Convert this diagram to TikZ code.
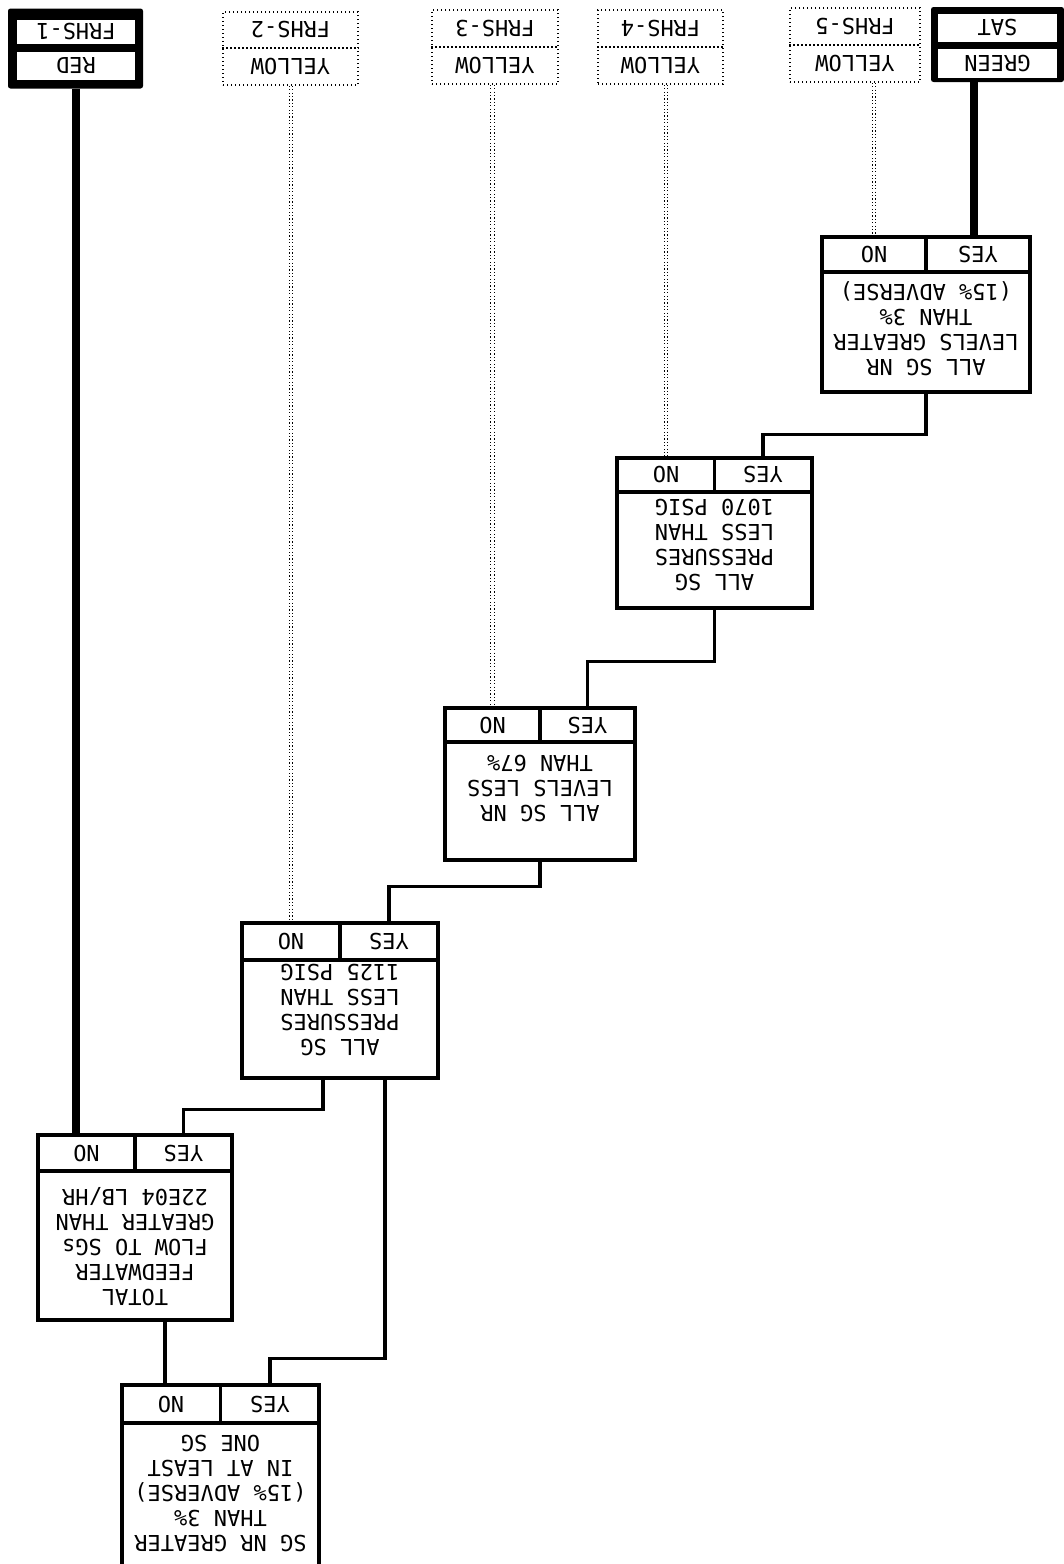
\documentclass[tikz,border=0pt]{standalone}
\usepackage{fontspec}
\setmainfont{DejaVu Sans Mono}
\usetikzlibrary{calc}
\begin{document}
\begin{tikzpicture}[x=1pt,y=-1pt,
  dbox/.style={draw, line width=3.2pt, inner sep=0pt},
  bline/.style={line width=3.2pt},
  cell/.style={font=\fontsize{22}{25}\selectfont, rotate=180, inner sep=0pt, anchor=center},
  body/.style={font=\fontsize{22}{25}\selectfont, rotate=180, align=center, inner sep=0pt, anchor=center},
  conn/.style={line width=3.6pt, line cap=rect, line join=miter},
  thickline/.style={line width=8pt},
  dotline/.style={line width=1.2pt, double distance=2.4pt, dash pattern=on 1.2pt off 2.2pt},
  dotborder/.style={line width=1.6pt, dash pattern=on 1.4pt off 2.6pt},
  dotbox/.style={draw, dotborder, inner sep=0pt, minimum width=130pt, minimum height=74pt},
  blackbox/.style={fill=black, rounded corners=2.5pt, inner sep=0pt},
  wcell/.style={fill=white, inner sep=0pt, font=\fontsize{22}{25}\selectfont, rotate=180}
]
\useasboundingbox (0,0) rectangle (1064,1564);

% ---------------- top status boxes ----------------
\node[blackbox, minimum width=135pt, minimum height=80pt] (t1) at (75.5,48.5) {};
\node[wcell, minimum width=118pt, minimum height=24pt] (t1a) at (76,31.5) {FRHS-1};
\node[wcell, minimum width=118pt, minimum height=28pt] (t1b) at (76,66) {RED};

\node[dotbox, minimum width=135pt, minimum height=73pt] (t2) at (290.5,48.5) {};
\draw[dotborder] (t2.west |- 0,48) -- (t2.east |- 0,48);
\node[cell] (t2a) at (290.5,30) {FRHS-2};
\node[cell] (t2b) at (290.5,66.5) {YELLOW};

\node[dotbox, minimum width=126pt, minimum height=74pt] (t3) at (495,47) {};
\draw[dotborder] (t3.west |- 0,47) -- (t3.east |- 0,47);
\node[cell] (t3a) at (495,28.5) {FRHS-3};
\node[cell] (t3b) at (495,65.5) {YELLOW};

\node[dotbox, minimum width=125pt, minimum height=74pt] (t4) at (660.5,47) {};
\draw[dotborder] (t4.west |- 0,47) -- (t4.east |- 0,47);
\node[cell] (t4a) at (660.5,28.5) {FRHS-4};
\node[cell] (t4b) at (660.5,65.5) {YELLOW};

\node[dotbox, minimum width=130pt, minimum height=74pt] (t5) at (855,45) {};
\draw[dotborder] (t5.west |- 0,45) -- (t5.east |- 0,45);
\node[cell] (t5a) at (855,26.5) {FRHS-5};
\node[cell] (t5b) at (855,63.5) {YELLOW};

\node[blackbox, minimum width=133pt, minimum height=75pt] (t6) at (997.5,44.5) {};
\node[wcell, minimum width=119pt, minimum height=28pt] (t6a) at (997.5,28) {SAT};
\node[wcell, minimum width=119pt, minimum height=29pt] (t6b) at (997.5,63.5) {GREEN};

% ---------------- decision boxes ----------------
% B1
\node[dbox, minimum width=208pt, minimum height=155pt] (b1) at (926,314.5) {};
\draw[bline] (b1.west |- 0,272) -- (b1.east |- 0,272);
\draw[bline] (b1.north) -- (b1.center |- 0,272);
\node[cell] (b1no) at (874,254.5) {NO};
\node[cell] (b1yes) at (978,254.5) {YES};
\node[body] (b1t) at (926,329) {ALL SG NR\\LEVELS GREATER\\THAN 3\%\\(15\% ADVERSE)};

% B2
\node[dbox, minimum width=195pt, minimum height=150pt] (b2) at (714.5,533) {};
\draw[bline] (b2.west |- 0,492) -- (b2.east |- 0,492);
\draw[bline] (b2.north) -- (b2.center |- 0,492);
\node[cell] (b2no) at (666,475) {NO};
\node[cell] (b2yes) at (763,475) {YES};
\node[body] (b2t) at (714.5,545) {ALL SG\\PRESSURES\\LESS THAN\\1070 PSIG};

% B3
\node[dbox, minimum width=190pt, minimum height=152pt] (b3) at (540,784) {};
\draw[bline] (b3.west |- 0,742) -- (b3.east |- 0,742);
\draw[bline] (b3.north) -- (b3.center |- 0,742);
\node[cell] (b3no) at (492.5,725) {NO};
\node[cell] (b3yes) at (587.5,725) {YES};
\node[body] (b3t) at (540,788) {ALL SG NR\\LEVELS LESS\\THAN 67\%};

% B4
\node[dbox, minimum width=196pt, minimum height=155pt] (b4) at (340,1000.5) {};
\draw[bline] (b4.west |- 0,960) -- (b4.east |- 0,960);
\draw[bline] (b4.north) -- (b4.center |- 0,960);
\node[cell] (b4no) at (291,941.5) {NO};
\node[cell] (b4yes) at (389,941.5) {YES};
\node[body] (b4t) at (340,1010) {ALL SG\\PRESSURES\\LESS THAN\\1125 PSIG};

% B5
\node[dbox, minimum width=194pt, minimum height=185pt] (b5) at (135,1227.5) {};
\draw[bline] (b5.west |- 0,1171) -- (b5.east |- 0,1171);
\draw[bline] (b5.north) -- (b5.center |- 0,1171);
\node[cell] (b5no) at (86.5,1153) {NO};
\node[cell] (b5yes) at (183.5,1153) {YES};
\node[body] (b5t) at (135,1247) {TOTAL\\FEEDWATER\\FLOW TO SGs\\GREATER THAN\\22E04 LB/HR};

% B6
\node[dbox, minimum width=197pt, minimum height=190pt] (b6) at (220.5,1480) {};
\draw[bline] (b6.west |- 0,1423) -- (b6.east |- 0,1423);
\draw[bline] (b6.north) -- (b6.center |- 0,1423);
\node[cell] (b6no) at (171,1404) {NO};
\node[cell] (b6yes) at (270,1404) {YES};
\node[body] (b6t) at (220.5,1493) {SG NR GREATER\\THAN 3\%\\(15\% ADVERSE)\\IN AT LEAST\\ONE SG};

% ---------------- connectors ----------------
\draw[thickline] (t6.south -| 974,0) -- (b1.north -| 974,0);
\draw[thickline] (t1.south) -- (t1.south |- b5.north);

\draw[dotline] (t5.south -| b1no) -- (b1.north -| b1no);
\draw[dotline] (t4.south -| b2no) -- (b2.north -| b2no);
\draw[dotline] (t3.south -| b3no) -- (b3.north -| b3no);
\draw[dotline] (t2.south -| b4no) -- (b4.north -| b4no);

\draw[conn] (b1.south) -- ++(0,41) -| (b2yes |- b2.north);
\draw[conn] (b2.south) -- ++(0,52) -| (b3yes |- b3.north);
\draw[conn] (b3.south) -- ++(0,25) -| (b4yes |- b4.north);
\coordinate (b4outa) at ($(b4.south)+(-17,0)$);
\coordinate (b4outb) at ($(b4.south)+(45,0)$);
\draw[conn] (b4outa) -- ++(0,30) -| (b5yes |- b5.north);
\draw[conn] (b4outb) -- ++(0,279) -| (b6yes |- b6.north);
\coordinate (b5out) at ($(b5.south)+(30,0)$);
\draw[conn] (b5out) -- (b5out |- b6.north);
\end{tikzpicture}
\end{document}
